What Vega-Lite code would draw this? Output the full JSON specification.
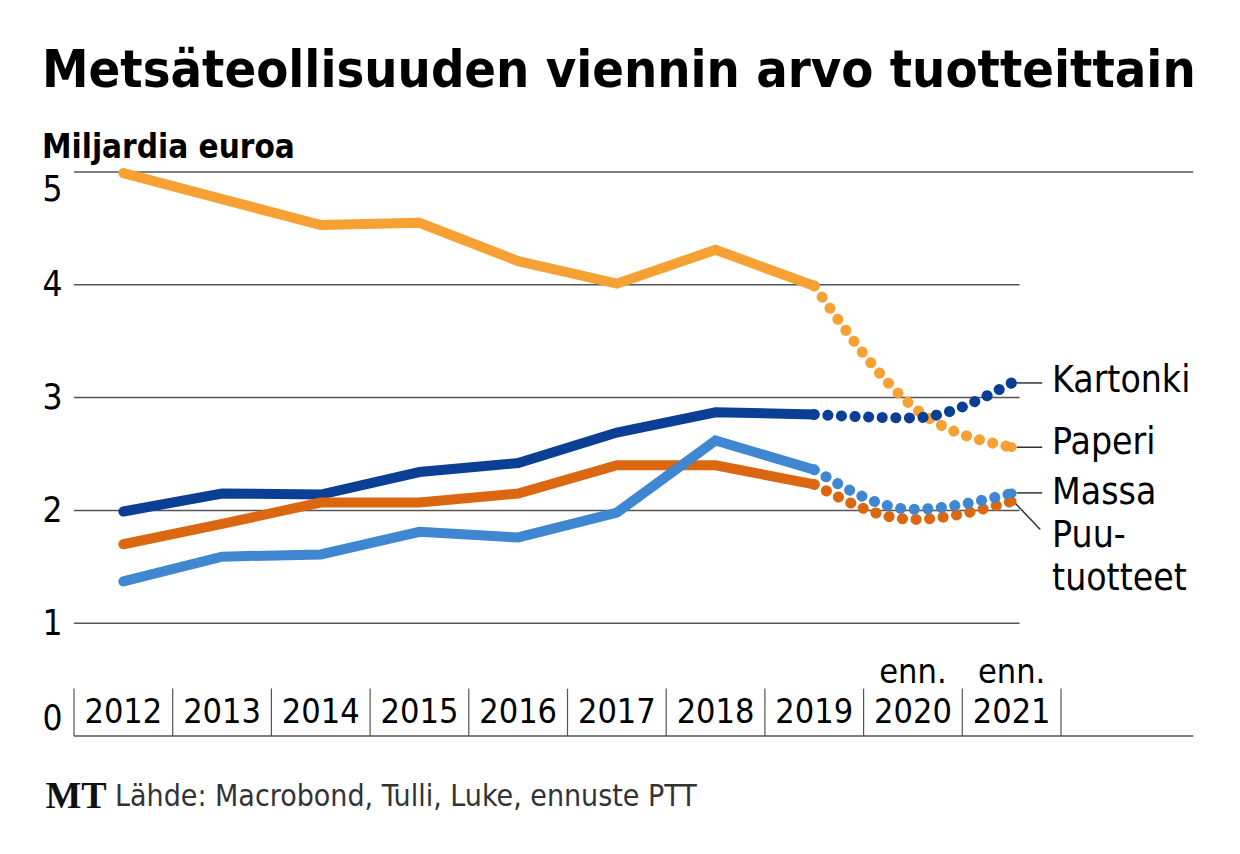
{
  "$schema": "https://vega.github.io/schema/vega-lite/v6.json",
  "width": 987,
  "height": 564,
  "autosize": {"type": "none"},
  "padding": {"left": 74, "top": 172, "right": 179, "bottom": 118},
  "background": "white",
  "title": {
    "text": "Metsäteollisuuden viennin arvo tuotteittain",
    "subtitle": "Miljardia euroa",
    "anchor": "start",
    "frame": "group",
    "dx": -32,
    "offset": -13,
    "font": "Liberation Sans Narrow, DejaVu Sans Condensed, sans-serif",
    "fontSize": 52,
    "fontWeight": "bold",
    "color": "black",
    "subtitleFont": "Liberation Sans Narrow, DejaVu Sans Condensed, sans-serif",
    "subtitleFontSize": 33,
    "subtitleFontWeight": "bold",
    "subtitleColor": "black",
    "subtitlePadding": 34
  },
  "config": {
    "view": {"stroke": null},
    "text": {"font": "Liberation Sans Narrow, DejaVu Sans Condensed, sans-serif"}
  },
  "datasets": {
    "series": [
      {"tuote": "Paperi", "vuosi": 2012, "arvo": 4.99, "osa": "toteutunut"},
      {"tuote": "Paperi", "vuosi": 2013, "arvo": 4.76, "osa": "toteutunut"},
      {"tuote": "Paperi", "vuosi": 2014, "arvo": 4.53, "osa": "toteutunut"},
      {"tuote": "Paperi", "vuosi": 2015, "arvo": 4.55, "osa": "toteutunut"},
      {"tuote": "Paperi", "vuosi": 2016, "arvo": 4.21, "osa": "toteutunut"},
      {"tuote": "Paperi", "vuosi": 2017, "arvo": 4.01, "osa": "toteutunut"},
      {"tuote": "Paperi", "vuosi": 2018, "arvo": 4.31, "osa": "toteutunut"},
      {"tuote": "Paperi", "vuosi": 2019, "arvo": 3.99, "osa": "toteutunut"},
      {"tuote": "Paperi", "vuosi": 2019, "arvo": 3.99, "osa": "ennuste"},
      {"tuote": "Paperi", "vuosi": 2020, "arvo": 2.92, "osa": "ennuste"},
      {"tuote": "Paperi", "vuosi": 2021, "arvo": 2.56, "osa": "ennuste"},
      {"tuote": "Kartonki", "vuosi": 2012, "arvo": 1.99, "osa": "toteutunut"},
      {"tuote": "Kartonki", "vuosi": 2013, "arvo": 2.15, "osa": "toteutunut"},
      {"tuote": "Kartonki", "vuosi": 2014, "arvo": 2.14, "osa": "toteutunut"},
      {"tuote": "Kartonki", "vuosi": 2015, "arvo": 2.34, "osa": "toteutunut"},
      {"tuote": "Kartonki", "vuosi": 2016, "arvo": 2.42, "osa": "toteutunut"},
      {"tuote": "Kartonki", "vuosi": 2017, "arvo": 2.69, "osa": "toteutunut"},
      {"tuote": "Kartonki", "vuosi": 2018, "arvo": 2.87, "osa": "toteutunut"},
      {"tuote": "Kartonki", "vuosi": 2019, "arvo": 2.85, "osa": "toteutunut"},
      {"tuote": "Kartonki", "vuosi": 2019, "arvo": 2.85, "osa": "ennuste"},
      {"tuote": "Kartonki", "vuosi": 2020, "arvo": 2.82, "osa": "ennuste"},
      {"tuote": "Kartonki", "vuosi": 2021, "arvo": 3.13, "osa": "ennuste"},
      {"tuote": "Puutuotteet", "vuosi": 2012, "arvo": 1.70, "osa": "toteutunut"},
      {"tuote": "Puutuotteet", "vuosi": 2013, "arvo": 1.88, "osa": "toteutunut"},
      {"tuote": "Puutuotteet", "vuosi": 2014, "arvo": 2.07, "osa": "toteutunut"},
      {"tuote": "Puutuotteet", "vuosi": 2015, "arvo": 2.07, "osa": "toteutunut"},
      {"tuote": "Puutuotteet", "vuosi": 2016, "arvo": 2.15, "osa": "toteutunut"},
      {"tuote": "Puutuotteet", "vuosi": 2017, "arvo": 2.40, "osa": "toteutunut"},
      {"tuote": "Puutuotteet", "vuosi": 2018, "arvo": 2.40, "osa": "toteutunut"},
      {"tuote": "Puutuotteet", "vuosi": 2019, "arvo": 2.23, "osa": "toteutunut"},
      {"tuote": "Puutuotteet", "vuosi": 2019, "arvo": 2.23, "osa": "ennuste"},
      {"tuote": "Puutuotteet", "vuosi": 2020, "arvo": 1.92, "osa": "ennuste"},
      {"tuote": "Puutuotteet", "vuosi": 2021, "arvo": 2.08, "osa": "ennuste"},
      {"tuote": "Massa", "vuosi": 2012, "arvo": 1.37, "osa": "toteutunut"},
      {"tuote": "Massa", "vuosi": 2013, "arvo": 1.59, "osa": "toteutunut"},
      {"tuote": "Massa", "vuosi": 2014, "arvo": 1.61, "osa": "toteutunut"},
      {"tuote": "Massa", "vuosi": 2015, "arvo": 1.81, "osa": "toteutunut"},
      {"tuote": "Massa", "vuosi": 2016, "arvo": 1.76, "osa": "toteutunut"},
      {"tuote": "Massa", "vuosi": 2017, "arvo": 1.98, "osa": "toteutunut"},
      {"tuote": "Massa", "vuosi": 2018, "arvo": 2.62, "osa": "toteutunut"},
      {"tuote": "Massa", "vuosi": 2019, "arvo": 2.36, "osa": "toteutunut"},
      {"tuote": "Massa", "vuosi": 2019, "arvo": 2.36, "osa": "ennuste"},
      {"tuote": "Massa", "vuosi": 2020, "arvo": 2.01, "osa": "ennuste"},
      {"tuote": "Massa", "vuosi": 2021, "arvo": 2.15, "osa": "ennuste"}
    ],
    "grid": [
      {"arvo": 0, "alku": 2011.5, "loppu": 2022.84},
      {"arvo": 1, "alku": 2011.5, "loppu": 2021.08},
      {"arvo": 2, "alku": 2011.5, "loppu": 2021.08},
      {"arvo": 3, "alku": 2011.5, "loppu": 2021.08},
      {"arvo": 4, "alku": 2011.5, "loppu": 2021.08},
      {"arvo": 5, "alku": 2011.5, "loppu": 2022.84}
    ],
    "erottimet": [
      {"raja": 2011.5}, {"raja": 2012.5}, {"raja": 2013.5}, {"raja": 2014.5},
      {"raja": 2015.5}, {"raja": 2016.5}, {"raja": 2017.5}, {"raja": 2018.5},
      {"raja": 2019.5}, {"raja": 2020.5}, {"raja": 2021.5}
    ],
    "vuodet": [
      {"vuosi": 2012, "teksti": "2012", "taso": 0.2},
      {"vuosi": 2013, "teksti": "2013", "taso": 0.2},
      {"vuosi": 2014, "teksti": "2014", "taso": 0.2},
      {"vuosi": 2015, "teksti": "2015", "taso": 0.2},
      {"vuosi": 2016, "teksti": "2016", "taso": 0.2},
      {"vuosi": 2017, "teksti": "2017", "taso": 0.2},
      {"vuosi": 2018, "teksti": "2018", "taso": 0.2},
      {"vuosi": 2019, "teksti": "2019", "taso": 0.2},
      {"vuosi": 2020, "teksti": "2020", "taso": 0.2},
      {"vuosi": 2021, "teksti": "2021", "taso": 0.2},
      {"vuosi": 2020, "teksti": "enn.", "taso": 0.56},
      {"vuosi": 2021, "teksti": "enn.", "taso": 0.56}
    ],
    "nimet": [
      {"x": 2021.41, "y": 3.15, "teksti": "Kartonki"},
      {"x": 2021.41, "y": 2.6, "teksti": "Paperi"},
      {"x": 2021.41, "y": 2.15, "teksti": "Massa"},
      {"x": 2021.41, "y": 1.77, "teksti": "Puu-"},
      {"x": 2021.41, "y": 1.39, "teksti": "tuotteet"}
    ],
    "viivat": [
      {"x": 2021.05, "x2": 2021.31, "y": 3.13, "y2": 3.13},
      {"x": 2021.05, "x2": 2021.31, "y": 2.56, "y2": 2.56},
      {"x": 2021.05, "x2": 2021.31, "y": 2.155, "y2": 2.155},
      {"x": 2021.03, "x2": 2021.29, "y": 2.07, "y2": 1.83}
    ]
  },
  "layer": [
    {
      "data": {"name": "grid"},
      "mark": {"type": "rule", "color": "#555555", "strokeWidth": 1.5},
      "encoding": {
        "y": {"field": "arvo", "type": "quantitative", "scale": {"domain": [0, 5], "nice": false, "zero": true},
              "axis": {"values": [0, 1, 2, 3, 4, 5], "format": "d", "domain": false, "ticks": false, "grid": false, "title": null,
                       "labelFontSize": 35, "labelFont": "Liberation Sans Narrow, DejaVu Sans Condensed, sans-serif",
                       "labelColor": "black", "labelPadding": 12, "labelFlush": true}},
        "x": {"field": "alku", "type": "quantitative", "scale": {"domain": [2011.5, 2021.5], "nice": false, "zero": false}, "axis": null},
        "x2": {"field": "loppu"}
      }
    },
    {
      "data": {"name": "erottimet"},
      "mark": {"type": "rule", "color": "#555555", "strokeWidth": 1.2},
      "encoding": {
        "x": {"field": "raja", "type": "quantitative"},
        "y": {"datum": 0, "type": "quantitative"},
        "y2": {"datum": 0.42}
      }
    },
    {
      "data": {"name": "vuodet"},
      "mark": {"type": "text", "fontSize": 34, "color": "black", "align": "center", "baseline": "middle"},
      "encoding": {
        "x": {"field": "vuosi", "type": "quantitative"},
        "y": {"field": "taso", "type": "quantitative"},
        "text": {"field": "teksti"}
      }
    },
    {
      "data": {"name": "viivat"},
      "mark": {"type": "rule", "color": "#333333", "strokeWidth": 1.5},
      "encoding": {
        "x": {"field": "x", "type": "quantitative"},
        "x2": {"field": "x2"},
        "y": {"field": "y", "type": "quantitative"},
        "y2": {"field": "y2"}
      }
    },
    {
      "data": {"name": "series"},
      "transform": [{"filter": "datum.osa === 'toteutunut'"}],
      "mark": {"type": "line", "strokeWidth": 10, "strokeCap": "round"},
      "encoding": {
        "x": {"field": "vuosi", "type": "quantitative"},
        "y": {"field": "arvo", "type": "quantitative"},
        "color": {"field": "tuote", "type": "nominal",
                  "scale": {"domain": ["Kartonki", "Puutuotteet", "Massa", "Paperi"], "range": ["#0B3F95", "#DB6811", "#3F87D1", "#F7A033"]},
                  "legend": null}
      }
    },
    {
      "data": {"name": "series"},
      "transform": [{"filter": "datum.osa === 'ennuste'"}],
      "mark": {"type": "line", "strokeWidth": 11, "strokeCap": "round", "strokeDash": [0.1, 13.5], "interpolate": "monotone"},
      "encoding": {
        "x": {"field": "vuosi", "type": "quantitative"},
        "y": {"field": "arvo", "type": "quantitative"},
        "color": {"field": "tuote", "type": "nominal", "legend": null}
      }
    },
    {
      "data": {"name": "series"},
      "transform": [{"filter": "datum.vuosi === 2021"}],
      "mark": {"type": "circle", "size": 95, "opacity": 1},
      "encoding": {
        "x": {"field": "vuosi", "type": "quantitative"},
        "y": {"field": "arvo", "type": "quantitative"},
        "color": {"field": "tuote", "type": "nominal", "legend": null}
      }
    },
    {
      "data": {"name": "nimet"},
      "mark": {"type": "text", "fontSize": 37, "color": "black", "align": "left", "baseline": "middle"},
      "encoding": {
        "x": {"field": "x", "type": "quantitative"},
        "y": {"field": "y", "type": "quantitative"},
        "text": {"field": "teksti"}
      }
    },
    {
      "data": {"values": [{"x": 2011.21, "y": -0.54, "teksti": "MT"}]},
      "mark": {"type": "text", "fontSize": 38, "font": "Liberation Serif, DejaVu Serif, serif", "fontWeight": "bold", "color": "#111111", "align": "left", "baseline": "middle"},
      "encoding": {
        "x": {"field": "x", "type": "quantitative"},
        "y": {"field": "y", "type": "quantitative"},
        "text": {"field": "teksti"}
      }
    },
    {
      "data": {"values": [{"x": 2011.915, "y": -0.54, "teksti": "Lähde: Macrobond, Tulli, Luke, ennuste PTT"}]},
      "mark": {"type": "text", "fontSize": 30, "color": "#333333", "align": "left", "baseline": "middle"},
      "encoding": {
        "x": {"field": "x", "type": "quantitative"},
        "y": {"field": "y", "type": "quantitative"},
        "text": {"field": "teksti"}
      }
    }
  ]
}
